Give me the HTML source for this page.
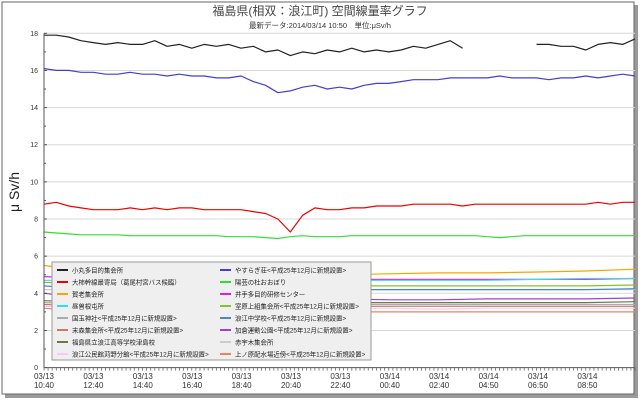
<!DOCTYPE html>
<html><head><meta charset="utf-8">
<style>
html,body{margin:0;padding:0;background:#fff;width:640px;height:400px;overflow:hidden}
svg{display:block;font-family:"Liberation Sans","Noto Sans CJK JP",sans-serif}
</style></head>
<body>
<svg id="chart" width="640" height="400">
<rect x="5" y="5" width="633" height="393" fill="#9a9a9a"/>
<rect x="2" y="2" width="632" height="392" fill="#fff" stroke="#666" stroke-width="1"/>
<text x="320" y="15" text-anchor="middle" font-size="12" fill="#444">福島県(相双：浪江町) 空間線量率グラフ</text>
<text x="320" y="28" text-anchor="middle" font-size="7.5" fill="#333">最新データ:2014/03/14 10:50　単位:μSv/h</text>
<text transform="translate(19,192) rotate(-90)" text-anchor="middle" font-size="14" fill="#222">μ Sv/h</text>
<g id="grid"></g>
<g id="series"></g>
<g id="axes"></g>
<g id="legend"></g>
</svg>
<script>
const yTicks=[0,2,4,6,8,10,12,14,16,18];
const xLabelsTop=["03/13","03/13","03/13","03/13","03/13","03/13","03/13","03/14","03/14","03/14","03/14","03/14"];
const xLabelsBot=["10:40","12:40","14:40","16:40","18:40","20:40","22:40","00:40","02:40","04:50","06:50","08:50"];
const blackVals=[17.9,17.9,17.8,17.6,17.5,17.4,17.5,17.4,17.4,17.6,17.3,17.4,17.2,17.4,17.3,17.4,17.2,17.3,17.0,17.1,16.8,17.0,16.9,17.1,17.0,17.2,17.0,17.1,17.0,17.1,17.3,17.2,17.4,17.6,17.2,null,null,null,null,null,17.4,17.4,17.3,17.3,17.1,17.4,17.5,17.4,17.7];
const blueVals=[16.1,16.0,16.0,15.9,15.9,15.8,15.8,15.9,15.8,15.8,15.7,15.8,15.7,15.7,15.6,15.6,15.7,15.4,15.2,14.8,14.9,15.1,15.2,15.0,15.1,15.0,15.2,15.3,15.3,15.4,15.5,15.5,15.5,15.6,15.6,15.6,15.6,15.7,15.6,15.6,15.6,15.5,15.6,15.6,15.7,15.6,15.7,15.8,15.7];
const redVals=[8.8,8.9,8.7,8.6,8.5,8.5,8.5,8.6,8.5,8.6,8.5,8.6,8.6,8.5,8.5,8.5,8.5,8.4,8.3,8.0,7.3,8.2,8.6,8.5,8.5,8.6,8.6,8.7,8.7,8.7,8.8,8.8,8.8,8.8,8.7,8.8,8.8,8.8,8.8,8.8,8.8,8.8,8.8,8.8,8.8,8.9,8.8,8.9,8.9];
const greenVals=[7.3,7.25,7.2,7.15,7.15,7.15,7.15,7.1,7.1,7.1,7.1,7.1,7.1,7.1,7.1,7.05,7.05,7.05,7.0,6.95,7.05,7.1,7.05,7.05,7.05,7.1,7.1,7.1,7.1,7.1,7.1,7.1,7.1,7.1,7.1,7.1,7.05,7.0,7.05,7.1,7.1,7.1,7.1,7.1,7.1,7.1,7.1,7.1,7.1];
const orangeVals=[5.5,5.2,5.0,5.0,5.0,5.0,5.0,5.05,5.1,5.1,5.15,5.2,5.3];
const cyanVals=[4.7,4.7,4.7,4.7,4.7,4.7,4.7,4.7,4.7,4.7,4.75,4.8,4.8];
const magentaVals=[4.9,4.8,4.8,4.75,4.75,4.75,4.75,4.75,4.75,4.75,4.75,4.75,4.8];
const ygreenVals=[4.6,4.4,4.4,4.4,4.4,4.4,4.4,4.4,4.4,4.4,4.4,4.4,4.45];
const steelVals=[4.4,4.2,4.2,4.2,4.2,4.2,4.2,4.2,4.2,4.2,4.2,4.2,4.25];
const lgrayVals=[4.2,4.2,4.2,4.2,4.2,4.2,4.2,4.2,4.2,4.2,4.2,4.2,4.2];
const purpleVals=[4.0,3.7,3.7,3.7,3.7,3.7,3.7,3.65,3.65,3.7,3.7,3.7,3.75];
const oliveVals=[3.6,3.5,3.5,3.5,3.5,3.5,3.5,3.5,3.5,3.5,3.5,3.5,3.55];
const grayVals=[3.5,3.4,3.4,3.4,3.4,3.4,3.4,3.4,3.4,3.4,3.4,3.4,3.4];
const pinkVals=[3.3,3.2,3.2,3.2,3.2,3.2,3.2,3.2,3.15,3.2,3.2,3.2,3.2];
const salmonVals=[3.2,3.0,3.0,3.0,3.0,3.0,3.0,3.0,3.0,3.0,3.0,3.0,3.0];
const brownVals=[3.4,3.3,3.3,3.3,3.3,3.3,3.3,3.3,3.3,3.3,3.3,3.3,3.3];
const legendNames=["小丸多目的集会所","大柿幹線最寄局（葛尾村宮バス候臨）","賀老集会所","昼曽根屯所","国玉神社<平成25年12月に新規設置>","末森集会所<平成25年12月に新規設置>","福島県立浪江高等学校津島校","浪江公民館苅野分館<平成25年12月に新規設置>","やすらぎ荘<平成25年12月に新規設置>","陽芸の杜おおぼり","井手多目的研修センター","室原上組集会所<平成25年12月に新規設置>","浪江中学校<平成25年12月に新規設置>","加倉運動公園<平成25年12月に新規設置>","赤宇木集会所","上ノ原配水場近傍<平成25年12月に新規設置>"];
const legendColors=["#222","#e00","#f9a500","#33e0e8","#aaa","#c87a6a","#6a7a40","#f8c8f0","#4040d0","#33dd33","#e020e0","#88c030","#4a88c0","#a040d0","#cccccc","#f08060"];

const NS="http://www.w3.org/2000/svg";
const X0=44,X1=635,Y0=367.6,Y18=33.3;
function yScale(v){return Y0-(v/18)*(Y0-Y18);}
function xScale(i,n){return X0+(X1-X0)*i/(n-1);}
function mk(tag,attrs,parent){const e=document.createElementNS(NS,tag);for(const k in attrs)e.setAttribute(k,attrs[k]);parent.appendChild(e);return e;}
const grid=document.getElementById('grid'),axes=document.getElementById('axes'),ser=document.getElementById('series'),leg=document.getElementById('legend');

yTicks.forEach(t=>{
  const y=yScale(t);
  if(t>0){const g=mk('line',{x1:X0,x2:X1,y1:y,y2:y,stroke:'#d8d8d8','stroke-width':1},grid);
  
  }
  const tk=mk('line',{x1:X0,x2:X0+3,y1:y,y2:y,stroke:'#555'},axes);
  
  
  if(t<18){const m=mk('line',{x1:X0,x2:X0+2,y1:yScale(t+1),y2:yScale(t+1),stroke:'#555'},axes);
  
  }
  const tx=mk('text',{x:X0-6,y:y+2.5,'text-anchor':'end','font-size':7,fill:'#333'},axes);
  tx.textContent=t;
  
  
});
const ax=mk('line',{x1:X0,x2:X0,y1:Y18,y2:Y0,stroke:'#555'},axes);


const bx=mk('line',{x1:X0,x2:X1,y1:Y0,y2:Y0,stroke:'#555'},axes);


for(let i=0;i<=144;i++){
  const x=xScale(i,145);
  const t=mk('line',{x1:x,x2:x,y1:Y0,y2:Y0+3,stroke:'#666','stroke-width':0.8},axes);
  
  
}
xLabelsTop.forEach((l,i)=>{
  const x=X0+i*49.4;
  const t=mk('text',{x:x,y:379,'text-anchor':'middle','font-size':8,fill:'#333'},axes);
  t.textContent=l;
  
  
  const t2=mk('text',{x:x,y:388,'text-anchor':'middle','font-size':8,fill:'#333'},axes);
  t2.textContent=xLabelsBot[i];
  
  
});
function draw(vals,color,name,w){
  let d='',pen=false;
  vals.forEach((v,i)=>{
    if(v===null){pen=false;return;}
    d+=(pen?'L':'M')+xScale(i,vals.length).toFixed(1)+' '+yScale(v).toFixed(1)+' ';pen=true;
  });
  const p=mk('path',{d:d,fill:'none',stroke:color,'stroke-width':w||1.2,'stroke-linejoin':'round'},ser);
  
  
}
draw(salmonVals,legendColors[15],'series-kaminohara');
draw(pinkVals,legendColors[7],'series-karino');
draw(brownVals,legendColors[5],'series-suemori');
draw(grayVals,legendColors[4],'series-tamagami');
draw(oliveVals,legendColors[6],'series-tsushima');
draw(purpleVals,legendColors[13],'series-kakura');
draw(lgrayVals,legendColors[14],'series-akougi');
draw(steelVals,legendColors[12],'series-namie-jhs');
draw(ygreenVals,legendColors[11],'series-murohara');
draw(magentaVals,legendColors[10],'series-ide');
draw(cyanVals,legendColors[3],'series-hirusone');
draw(orangeVals,legendColors[2],'series-karou');
draw(greenVals,legendColors[9],'series-oobori');
draw(redVals,legendColors[1],'series-ookaki');
draw(blueVals,legendColors[8],'series-yasuragi');
draw(blackVals,legendColors[0],'series-komaru');

const lb=mk('rect',{x:52,y:262,width:319,height:98,fill:'#efefef',stroke:'#999'},leg);


legendNames.forEach((n,i)=>{
  const col=Math.floor(i/8),row=i%8;
  const lx=col?220:57,y=270+row*12;
  const ln=mk('line',{x1:lx,x2:lx+11,y1:y,y2:y,stroke:legendColors[i],'stroke-width':2},leg);
  
  
  const t=mk('text',{x:lx+15,y:y+2.5,'font-size':6.4,fill:'#222'},leg);
  t.textContent=n;
  
  
});
</script>
</body></html>
